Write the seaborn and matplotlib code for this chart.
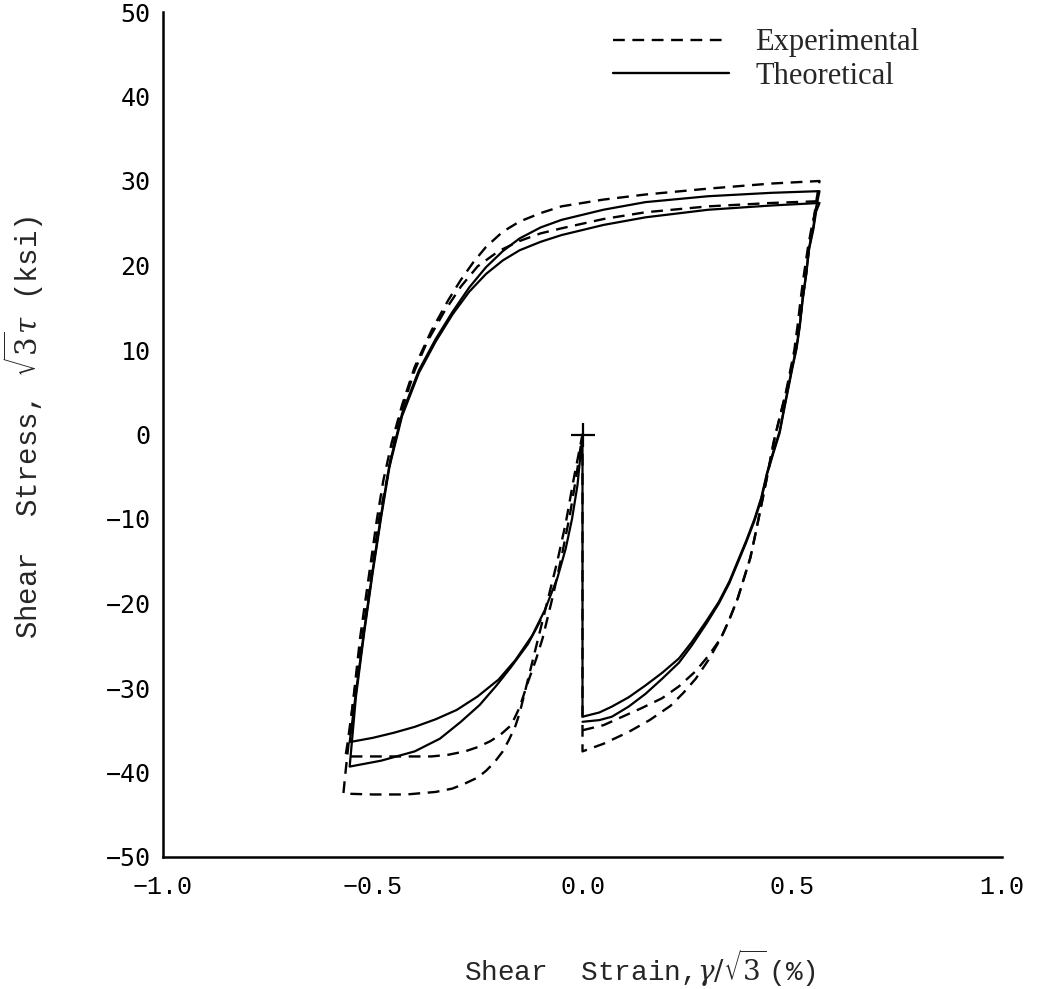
import matplotlib
matplotlib.use("Agg")
import matplotlib.pyplot as plt
import seaborn as sns
import pandas as pd

# ---------------- data (strain %, stress ksi) ----------------
# Experimental, cycle 1 (outer dashed)
exp1_x = [0.0, 0.0, 0.05, 0.11, 0.16, 0.21, 0.24, 0.27, 0.30, 0.33, 0.35, 0.37, 0.385, 0.40, 0.41, 0.42,
          0.44, 0.46, 0.475, 0.49, 0.50, 0.51, 0.518, 0.525, 0.533, 0.54, 0.55, 0.557, 0.565,
          0.45, 0.30, 0.15, 0.05, -0.05, -0.10, -0.15, -0.19, -0.23, -0.26, -0.29, -0.32, -0.36, -0.40,
          -0.43, -0.455, -0.475, -0.49, -0.51, -0.53, -0.55, -0.565, -0.57,
          -0.50, -0.42, -0.35, -0.31, -0.28, -0.25, -0.23, -0.21, -0.19, -0.175, -0.16, -0.15, -0.14,
          -0.13, -0.12, -0.10, -0.08, -0.06, -0.04, -0.02, 0.0]
exp1_y = [0.0, -37.5, -36.6, -35.2, -33.8, -32.1, -30.6, -28.9, -26.7, -24.1, -21.9, -19.4, -17.0, -14.6, -12.3, -9.9,
          -5.0, 0.0, 3.0, 6.0, 8.3, 10.6, 13.3, 16.2, 19.0, 22.1, 25.0, 27.5, 30.0,
          29.7, 29.1, 28.4, 27.8, 27.0, 26.2, 25.2, 24.0, 22.2, 20.4, 18.3, 15.9, 12.3, 8.0,
          3.5, -1.0, -5.5, -10.0, -17.0, -24.0, -33.0, -40.0, -42.5,
          -42.6, -42.6, -42.3, -41.9, -41.3, -40.6, -39.8, -38.8, -37.5, -36.1, -34.5, -33.0, -31.0,
          -29.0, -27.0, -23.0, -19.0, -15.0, -10.5, -5.0, 0.0]

# Experimental, cycle 2 (inner dashed)
exp2_x = [0.0, 0.05, 0.095, 0.14, 0.19, 0.23, 0.27, 0.30, 0.33, 0.35, 0.37, 0.385, 0.40, 0.41, 0.42,
          0.44, 0.455, 0.47, 0.485, 0.495, 0.505, 0.513, 0.52, 0.528, 0.537, 0.545, 0.553, 0.56,
          0.45, 0.30, 0.15, 0.05, -0.05, -0.10, -0.15, -0.20, -0.25, -0.29, -0.33, -0.37, -0.40, -0.44,
          -0.465, -0.485, -0.505, -0.525, -0.545, -0.56, -0.565,
          -0.45, -0.36, -0.32, -0.28, -0.25, -0.22, -0.195, -0.17, -0.15, -0.13, -0.11, -0.095, -0.07,
          -0.05, -0.03, -0.015, 0.0]
exp2_y = [-35.0, -34.4, -33.4, -32.4, -31.2, -29.8, -28.0, -26.2, -24.1, -21.9, -19.4, -17.0, -14.6, -12.3, -9.9,
          -5.0, -1.0, 2.0, 5.0, 7.5, 10.0, 13.0, 16.0, 19.0, 22.0, 24.2, 26.0, 27.6,
          27.4, 27.0, 26.3, 25.5, 24.4, 23.8, 22.9, 21.7, 19.9, 17.5, 14.5, 11.0, 7.6, 1.5,
          -5.0, -10.0, -17.0, -24.0, -31.0, -36.5, -38.1,
          -38.1, -38.1, -37.9, -37.5, -37.0, -36.3, -35.5, -34.4, -32.3, -29.3, -26.5, -24.1, -19.0,
          -14.5, -9.5, -5.0, 0.0]

# Theoretical, cycle 1
th1_x = [0.0, 0.0, 0.04, 0.07, 0.11, 0.15, 0.19, 0.23, 0.26, 0.295, 0.325, 0.35, 0.37, 0.39, 0.41, 0.426,
         0.44, 0.455, 0.47, 0.48, 0.49, 0.50, 0.51, 0.518, 0.525, 0.533, 0.54, 0.55, 0.557, 0.565,
         0.45, 0.30, 0.15, 0.05, -0.05, -0.10, -0.15, -0.19, -0.23, -0.27, -0.31, -0.35, -0.39, -0.43,
         -0.46, -0.48, -0.50, -0.52, -0.54, -0.555,
         -0.50, -0.45, -0.40, -0.35, -0.30, -0.25, -0.20, -0.16, -0.12, -0.09, -0.06, -0.04, -0.025,
         -0.012, 0.0]
th1_y = [0.0, -33.4, -32.9, -32.2, -31.1, -29.7, -28.2, -26.5, -24.6, -22.1, -19.8, -17.4, -15.0, -12.6, -10.0, -7.5,
         -4.5, -2.0, 0.4, 3.0, 5.5, 8.0, 10.3, 13.0, 16.2, 19.0, 22.1, 24.5, 26.9, 28.8,
         28.6, 28.2, 27.5, 26.6, 25.4, 24.5, 23.2, 21.7, 19.8, 17.4, 14.5, 11.3, 7.6, 2.5,
         -3.5, -9.5, -16.0, -23.0, -30.5, -36.4,
         -35.9, -35.3, -34.6, -33.7, -32.6, -31.0, -29.0, -26.7, -23.8, -20.8, -17.0, -13.5, -10.0,
         -6.0, 0.0]

# Theoretical, cycle 2
th2_x = [0.0, 0.04, 0.07, 0.11, 0.15, 0.19, 0.23, 0.26, 0.295, 0.325, 0.35, 0.37, 0.39, 0.41, 0.426,
         0.44, 0.455, 0.47, 0.48, 0.49, 0.50, 0.51, 0.518, 0.525, 0.533, 0.54, 0.55, 0.557, 0.565,
         0.45, 0.30, 0.15, 0.05, -0.05, -0.10, -0.15, -0.19, -0.23, -0.27, -0.31, -0.35, -0.39, -0.43,
         -0.46, -0.48, -0.50, -0.52, -0.54, -0.555,
         -0.48, -0.40, -0.34, -0.29, -0.245, -0.205, -0.17, -0.13, -0.10]
th2_y = [-34.0, -33.8, -33.4, -32.2, -30.7, -28.9, -27.0, -25.0, -22.4, -20.0, -17.6, -15.2, -12.8, -10.2, -7.7,
         -4.7, -2.2, 0.2, 2.8, 5.3, 7.8, 10.1, 12.8, 16.0, 18.8, 21.9, 24.2, 26.4, 27.4,
         27.1, 26.6, 25.7, 24.8, 23.6, 22.8, 21.8, 20.6, 19.0, 16.9, 14.2, 11.0, 7.3, 2.2,
         -3.8, -9.8, -16.3, -23.3, -31.0, -39.3,
         -38.6, -37.5, -36.0, -34.0, -32.0, -29.7, -27.5, -24.8, -22.0]

origin_x = [0.0]
origin_y = [0.0]

x_ticks = [-1.0, -0.5, 0.0, 0.5, 1.0]
x_tick_labels = ["\u22121.0", "\u22120.5", "0.0", "0.5", "1.0"]
y_ticks = [50, 40, 30, 20, 10, 0, -10, -20, -30, -40, -50]
y_tick_labels = ["50", "40", "30", "20", "10", "0", "\u221210", "\u221220", "\u221230", "\u221240", "\u221250"]

x_label = r"Shear  Strain,$\gamma/\sqrt{3}\,$(%)"
y_label = r"Shear  Stress, $\sqrt{3}\tau$ (ksi)"
legend_labels = ["Experimental", "Theoretical"]

# ---------------- plot ----------------
sns.set_theme(style="white")
plt.rcParams["font.family"] = ["Liberation Mono", "DejaVu Sans Mono", "DejaVu Sans"]
plt.rcParams["mathtext.fontset"] = "dejavuserif"

fig = plt.figure(figsize=(10.44, 9.89), dpi=100)
ax = fig.add_axes([163 / 1044, 132 / 989, 839 / 1044, 845 / 989])

dash = (5, 3.2)
for i, (xs, ys) in enumerate([(exp1_x, exp1_y), (exp2_x, exp2_y)]):
    df = pd.DataFrame({"x": xs, "y": ys})
    sns.lineplot(data=df, x="x", y="y", sort=False, estimator=None, ax=ax,
                 color="black", linewidth=1.7,
                 label=legend_labels[0] if i == 0 else None)
    ax.lines[-1].set_dashes(dash)

for i, (xs, ys) in enumerate([(th1_x, th1_y), (th2_x, th2_y)]):
    df = pd.DataFrame({"x": xs, "y": ys})
    sns.lineplot(data=df, x="x", y="y", sort=False, estimator=None, ax=ax,
                 color="black", linewidth=1.6,
                 label=legend_labels[1] if i == 0 else None)

sns.scatterplot(x=origin_x, y=origin_y, marker="+", s=300, color="black", linewidth=1.6, ax=ax)

ax.set_xlim(-1.0, 1.0)
ax.set_ylim(-50, 50)
ax.set_xticks(x_ticks)
ax.set_xticklabels(x_tick_labels)
ax.set_yticks(y_ticks)
ax.set_yticklabels(y_tick_labels)

for side in ["top", "right"]:
    ax.spines[side].set_visible(False)
for side in ["left", "bottom"]:
    ax.spines[side].set_color("black")
    ax.spines[side].set_linewidth(1.8)

ax.tick_params(axis="both", direction="in", length=7, width=1.3, colors="black")
ax.tick_params(axis="y", pad=9, labelsize=18)
ax.tick_params(axis="x", pad=13, labelsize=18)
for t in ax.get_yticklabels():
    t.set_fontfamily(["DejaVu Sans Mono", "DejaVu Sans"])

ax.set_xlabel(x_label, fontsize=20, va="center")
ax.xaxis.set_label_coords((640 - 163) / 839, -(968 - 857) / 845)
ax.set_ylabel(y_label, fontsize=21)
ax.yaxis.set_label_coords(-(163 - 46) / 839, (857 - 427) / 845)

leg = ax.legend(frameon=False, loc="upper left", bbox_to_anchor=(0.522, 0.995),
                borderaxespad=0.0,
                prop={"family": "Liberation Serif", "size": 22},
                handlelength=3.8, handletextpad=0.85, labelspacing=0.15)
for h in leg.get_lines():
    h.set_color("black")
    h.set_linewidth(1.7)
leg.get_lines()[0].set_dashes(dash)

fig.savefig("out.png", dpi=100, facecolor="white")
